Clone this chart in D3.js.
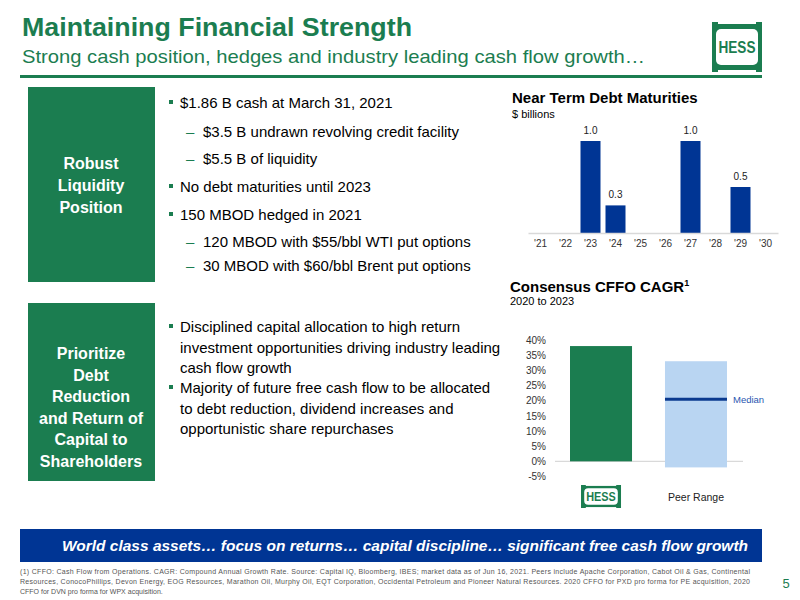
<!DOCTYPE html>
<html><head><meta charset="utf-8">
<script src="https://cdn.jsdelivr.net/npm/d3@7"></script>
<style>body{margin:0;background:#fff;}svg{display:block;font-family:"Liberation Sans",Arial,sans-serif;}</style>
</head><body>
<svg id="c" width="800" height="600"></svg>
<script>
const years = ["'21","'22","'23","'24","'25","'26","'27","'28","'29","'30"];
const debtMaturities = [0,0,1.0,0.3,0,0,1.0,0,0.5,0];
const cagrTicks = [-5,0,5,10,15,20,25,30,35,40];
const cagrCategories = ["HESS","Peer Range"];
const hessCagr = 38;
const peerLow = -2, peerHigh = 33, peerMedian = 20.5;
const bullets1 = [
 {t:"$1.86 B cash at March 31, 2021",lvl:0},
 {t:"$3.5 B undrawn revolving credit facility",lvl:1},
 {t:"$5.5 B of liquidity",lvl:1},
 {t:"No debt maturities until 2023",lvl:0},
 {t:"150 MBOD hedged in 2021",lvl:0},
 {t:"120 MBOD with $55/bbl WTI put options",lvl:1},
 {t:"30 MBOD with $60/bbl Brent put options",lvl:1}];
const bullets2 = [
 ["Disciplined capital allocation to high return","investment opportunities driving industry leading","cash flow growth"],
 ["Majority of future free cash flow to be allocated","to debt reduction, dividend increases and","opportunistic share repurchases"]];
const footnote = [
 "(1) CFFO: Cash Flow from Operations. CAGR: Compound Annual Growth Rate. Source: Capital IQ, Bloomberg, IBES; market data as of Jun 16, 2021. Peers include Apache Corporation, Cabot Oil & Gas, Continental",
 "Resources, ConocoPhillips, Devon Energy, EOG Resources, Marathon Oil, Murphy Oil, EQT Corporation, Occidental Petroleum and Pioneer Natural Resources. 2020 CFFO  for PXD pro forma for PE acquisition, 2020",
 "CFFO for DVN pro forma for WPX acquisition."];

const GREEN="#1b7d50", BLUE="#003594", LIGHT="#b9d5f2";
const svg=d3.select("#c");

// Header
svg.append("text").attr("x",22).attr("y",36).attr("font-size",26).attr("font-weight","bold").attr("fill",GREEN).attr("textLength",390).attr("lengthAdjust","spacingAndGlyphs").text("Maintaining Financial Strength");
svg.append("text").attr("x",22).attr("y",63).attr("font-size",19).attr("fill",GREEN).attr("textLength",623).attr("lengthAdjust","spacingAndGlyphs").text("Strong cash position, hedges and industry leading cash flow growth…");
svg.append("rect").attr("x",20).attr("y",75).attr("width",742).attr("height",3).attr("fill",GREEN);

function logo(g,x,y,w,h,fs){
  g.append("rect").attr("x",x).attr("y",y).attr("width",w).attr("height",h).attr("fill",GREEN);
  g.append("rect").attr("x",x+w*0.08).attr("y",y+h*0.14).attr("width",w*0.84).attr("height",h*0.72).attr("rx",w*0.1).attr("fill","#fff");
  g.append("rect").attr("x",x+w*0.12).attr("y",y).attr("width",w*0.76).attr("height",h*0.04).attr("fill","#fff");
  g.append("rect").attr("x",x+w*0.12).attr("y",y+h*0.96).attr("width",w*0.76).attr("height",h*0.04).attr("fill","#fff");
  g.append("text").attr("x",x+w/2).attr("y",y+h/2+fs*0.36).attr("text-anchor","middle").attr("font-size",fs).attr("font-weight","bold").attr("fill",GREEN).attr("textLength",w*0.74).attr("lengthAdjust","spacingAndGlyphs").text("HESS");
}
logo(svg,712,22,50,50,16);

// Green boxes
function box(y,h,lines,ys,sp){
  svg.append("rect").attr("x",28).attr("y",y).attr("width",127).attr("height",h).attr("fill",GREEN);
  lines.forEach((l,i)=>svg.append("text").attr("x",91).attr("y",ys+i*sp).attr("text-anchor","middle").attr("font-size",16).attr("font-weight","bold").attr("fill","#fff").text(l));
}
box(87,195,["Robust","Liquidity","Position"],169,22);
box(303,178,["Prioritize","Debt","Reduction","and Return of","Capital to","Shareholders"],359,21.5);

// Bullets 1
const b1y=[108,137,164,192,220,247,271];
bullets1.forEach((b,i)=>{
  if(b.lvl===0){
    svg.append("rect").attr("x",169).attr("y",b1y[i]-8).attr("width",4).attr("height",4).attr("fill",GREEN);
    svg.append("text").attr("x",180).attr("y",b1y[i]).attr("font-size",15).attr("fill","#000").text(b.t);
  } else {
    svg.append("text").attr("x",186).attr("y",b1y[i]).attr("font-size",15).attr("fill",GREEN).text("–");
    svg.append("text").attr("x",203).attr("y",b1y[i]).attr("font-size",15).attr("fill","#000").text(b.t);
  }
});
// Bullets 2
const b2y=[332,393];
bullets2.forEach((lines,j)=>{
  svg.append("rect").attr("x",169).attr("y",b2y[j]-8).attr("width",4).attr("height",4).attr("fill",GREEN);
  lines.forEach((l,i)=>svg.append("text").attr("x",180).attr("y",b2y[j]+i*20.5).attr("font-size",15).attr("fill","#000").text(l));
});

// Debt chart
svg.append("text").attr("x",512).attr("y",103).attr("font-size",15).attr("font-weight","bold").text("Near Term Debt Maturities");
svg.append("text").attr("x",512).attr("y",118).attr("font-size",11).text("$ billions");
const xd=d3.scaleBand().domain(years).range([528,778]).paddingInner(0.2).paddingOuter(0.1);
const yd=d3.scaleLinear().domain([0,1]).range([233,141]);
const gd=svg.append("g");
gd.selectAll("rect.b").data(debtMaturities.map((v,i)=>({y:years[i],v}))).join("rect")
  .attr("x",d=>xd(d.y)).attr("width",xd.bandwidth()).attr("y",d=>yd(d.v)).attr("height",d=>yd(0)-yd(d.v)).attr("fill",BLUE);
gd.selectAll("text.l").data(debtMaturities.map((v,i)=>({y:years[i],v})).filter(d=>d.v>0)).join("text")
  .attr("x",d=>xd(d.y)+xd.bandwidth()/2).attr("y",d=>yd(d.v)-7).attr("text-anchor","middle").attr("font-size",10).attr("fill","#222").text(d=>d.v.toFixed(1));
const axd=svg.append("g").attr("transform","translate(0,233)").call(d3.axisBottom(xd).tickSize(0).tickPadding(7));
axd.select(".domain").attr("stroke","#d9d9d9").attr("stroke-width",1.5);
axd.selectAll("text").attr("font-size",10).attr("fill","#333").attr("font-family","Liberation Sans, Arial");

// CFFO chart
const ct=svg.append("text").attr("x",510).attr("y",292).attr("font-size",15).attr("font-weight","bold");
ct.append("tspan").text("Consensus CFFO CAGR");
ct.append("tspan").attr("font-size",9).attr("dy",-6).text("1");
svg.append("text").attr("x",510).attr("y",305).attr("font-size",11).text("2020 to 2023");
const yc=d3.scaleLinear().domain([-5,40]).range([476.5,340]);
const xc=d3.scaleBand().domain(cagrCategories).range([555,742]).paddingInner(0.347).paddingOuter(0.158);
const ayc=svg.append("g").attr("transform","translate(546,0)").call(d3.axisLeft(yc).tickValues(cagrTicks).tickSize(0).tickPadding(0).tickFormat(d=>d+"%"));
ayc.select(".domain").remove();
ayc.selectAll("text").attr("font-size",10).attr("fill","#333").attr("font-family","Liberation Sans, Arial");
svg.append("line").attr("x1",555).attr("x2",743).attr("y1",yc(0)).attr("y2",yc(0)).attr("stroke","#d9d9d9").attr("stroke-width",1.2);
svg.append("rect").attr("x",xc("HESS")).attr("width",xc.bandwidth()).attr("y",yc(hessCagr)).attr("height",yc(0)-yc(hessCagr)).attr("fill",GREEN);
svg.append("rect").attr("x",xc("Peer Range")).attr("width",xc.bandwidth()).attr("y",yc(peerHigh)).attr("height",yc(peerLow)-yc(peerHigh)).attr("fill",LIGHT);
svg.append("line").attr("x1",xc("Peer Range")).attr("x2",xc("Peer Range")+xc.bandwidth()).attr("y1",yc(peerMedian)).attr("y2",yc(peerMedian)).attr("stroke","#0b3a8f").attr("stroke-width",3);
svg.append("text").attr("x",xc("Peer Range")+xc.bandwidth()+6).attr("y",yc(peerMedian)+3.5).attr("font-size",9.5).attr("fill","#2a56b0").text("Median");
logo(svg,xc("HESS")+xc.bandwidth()/2-20,485,40,23,12);
svg.append("text").attr("x",xc("Peer Range")+xc.bandwidth()/2).attr("y",501).attr("text-anchor","middle").attr("font-size",10.5).attr("fill","#222").text("Peer Range");

// Banner
svg.append("rect").attr("x",20).attr("y",529).attr("width",742).attr("height",33).attr("fill",BLUE);
svg.append("text").attr("x",62).attr("y",551).attr("font-size",15).attr("font-weight","bold").attr("font-style","italic").attr("fill","#fff").attr("textLength",686).attr("lengthAdjust","spacingAndGlyphs").text("World class assets… focus on returns… capital discipline… significant free cash flow growth");

// Footnote
footnote.forEach((l,i)=>svg.append("text").attr("x",20).attr("y",574+i*10).attr("font-size",7).attr("fill","#555").attr("textLength",i<2?730:null).text(l));
svg.append("text").attr("x",786).attr("y",588).attr("text-anchor","middle").attr("font-size",13).attr("fill",GREEN).text("5");
</script>
</body></html>
